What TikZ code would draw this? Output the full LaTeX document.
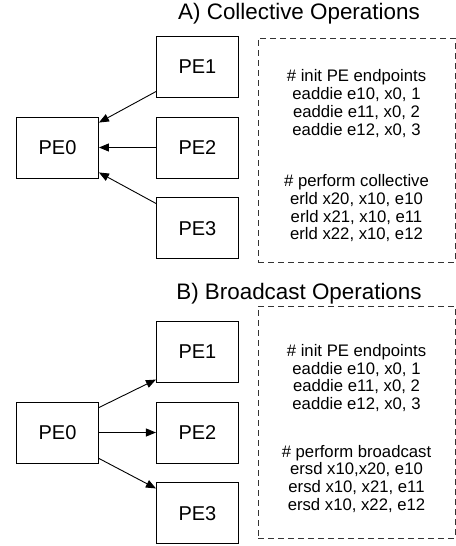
\documentclass[tikz,border=0pt]{standalone}
\usepackage{fontspec}
\setmainfont{Liberation Sans}
\usetikzlibrary{positioning,arrows.meta}
\tikzset{
  pe/.style={draw, line width=0.9pt, minimum width=82pt, minimum height=61pt, inner sep=0pt, font=\fontsize{20}{24}\selectfont},
  code/.style={draw=black!80, line width=0.9pt, dash pattern=on 6pt off 4pt, minimum width=197pt, align=center, inner sep=0pt, font=\fontsize{16.7}{17.7}\selectfont},
  ttl/.style={font=\fontsize{22.4}{26}\selectfont, inner sep=0pt},
  fl/.style={-{Triangle[length=10pt,width=8pt]}, line width=0.9pt},
}
\begin{document}
\begin{tikzpicture}[x=1pt, y=-1pt, node distance=19pt and 57pt]
\useasboundingbox (0,0) rectangle (455,546);
% A) collective
\node[ttl] (tA) at (299,13.5) {A) Collective Operations};
\node[pe] (a0) at (57.5,147.5) {PE0};
\node[pe, right=of a0] (a2) {PE2};
\node[pe, above=of a2] (a1) {PE1};
\node[pe, below=of a2] (a3) {PE3};
\node[code, minimum height=224pt] (cA) at (356.5,150)
  {\rule{0pt}{24pt}\# init PE endpoints\\eaddie e10, x0, 1\\eaddie e11, x0, 2\\eaddie e12, x0, 3\\[34pt]
   \# perform collective\\erld x20, x10, e10\\erld x21, x10, e11\\erld x22, x10, e12};
\draw[fl] ([yshift=6pt]a1.south west) -- ([yshift=-6pt]a0.north east);
\draw[fl] (a2) -- (a0);
\draw[fl] ([yshift=-6pt]a3.north west) -- ([yshift=6pt]a0.south east);
% B) broadcast
\node[ttl] (tB) at (299,293.5) {B) Broadcast Operations};
\node[pe] (b0) at (57.5,432.5) {PE0};
\node[pe, right=of b0] (b2) {PE2};
\node[pe, above=of b2] (b1) {PE1};
\node[pe, below=of b2] (b3) {PE3};
\node[code, minimum height=232pt] (cB) at (356.5,422)
  {\rule{0pt}{25pt}\# init PE endpoints\\eaddie e10, x0, 1\\eaddie e11, x0, 2\\eaddie e12, x0, 3\\[30pt]
   \# perform broadcast\\ersd x10,x20, e10\\ersd x10, x21, e11\\ersd x10, x22, e12};
\draw[fl] ([yshift=-6pt]b0.north east) -- ([yshift=3pt]b1.south west);
\draw[fl] (b0) -- (b2);
\draw[fl] ([yshift=5pt]b0.south east) -- ([yshift=-6pt]b3.north west);
\end{tikzpicture}
\end{document}
